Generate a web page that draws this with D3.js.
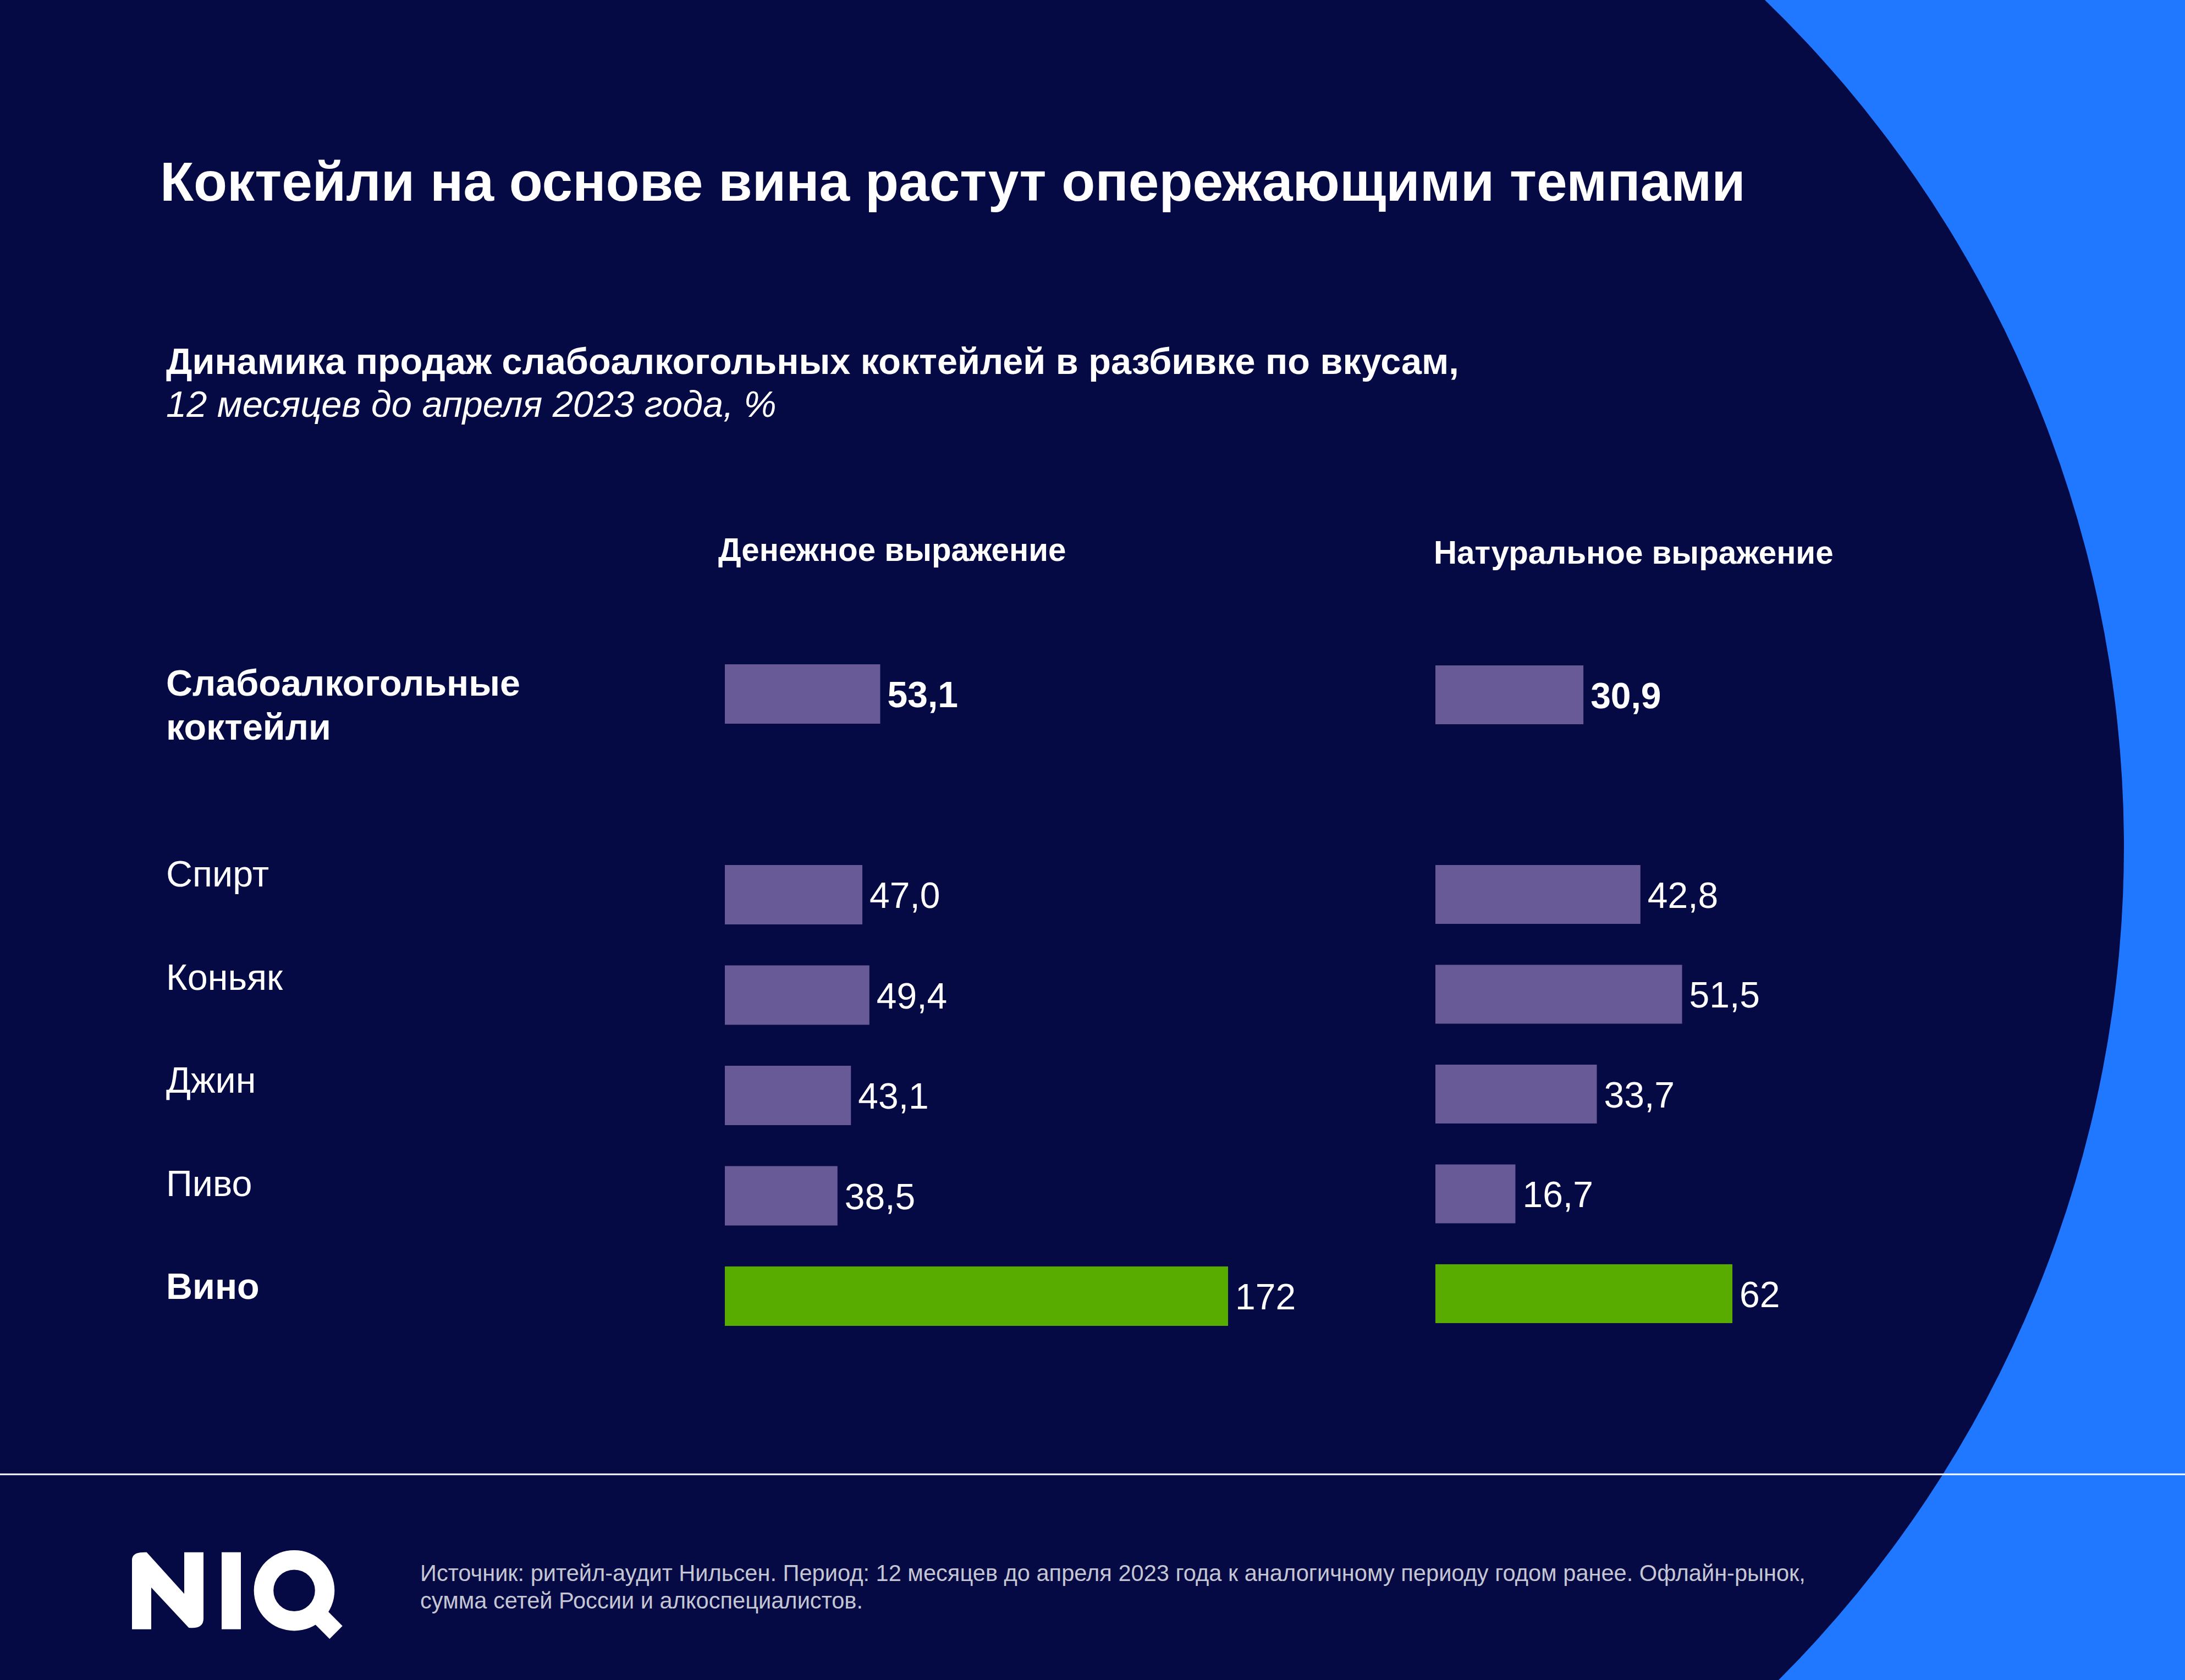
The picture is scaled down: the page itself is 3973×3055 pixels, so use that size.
<!DOCTYPE html>
<html><head><meta charset="utf-8">
<script src="https://cdn.jsdelivr.net/npm/d3@7"></script>
<style>
html,body{margin:0;padding:0;background:#050A45;}
svg{display:block;}
text{font-family:"Liberation Sans",Arial,sans-serif;}
</style></head>
<body>
<script>
// ---- data ----
const title = "Коктейли на основе вина растут опережающими темпами";
const subtitleBold = "Динамика продаж слабоалкогольных коктейлей в разбивке по вкусам,";
const subtitleItalic = "12 месяцев до апреля 2023 года, %";
const panelTitles = ["Денежное выражение", "Натуральное выражение"];
const categories = [["Слабоалкогольные", "коктейли"], ["Спирт"], ["Коньяк"], ["Джин"], ["Пиво"], ["Вино"]];
const moneyValues = [53.1, 47.0, 49.4, 43.1, 38.5, 172];
const volumeValues = [30.9, 42.8, 51.5, 33.7, 16.7, 62];
const moneyLabels = ["53,1", "47,0", "49,4", "43,1", "38,5", "172"];
const volumeLabels = ["30,9", "42,8", "51,5", "33,7", "16,7", "62"];
const footnote = ["Источник: ритейл-аудит Нильсен. Период: 12 месяцев до апреля 2023 года к аналогичному периоду годом ранее. Офлайн-рынок,",
                  "сумма сетей России и алкоспециалистов."];

// ---- layout / style ----
const W = 3973, H = 3055;
const C = {bg:"#050A45", blue:"#1F78FF", bar:"#675A96", wine:"#58AC00", text:"#FFFFFF", foot:"#C5C6D3"};

const svg = d3.select("body").append("svg").attr("width", W).attr("height", H);

// background: blue with dark region bounded by a big arc
svg.append("rect").attr("width", W).attr("height", H).attr("fill", C.blue);
svg.append("path")
  .attr("d", "M0,0 L3209,0 A2142,2142 0 0 1 3234,3055 L0,3055 Z")
  .attr("fill", C.bg);

// title
svg.append("text").attr("x", 291).attr("y", 365).attr("fill", C.text)
  .attr("font-size", 100).attr("font-weight", "bold").text(title);
svg.append("text").attr("x", 302).attr("y", 680).attr("fill", C.text)
  .attr("font-size", 66.6).attr("font-weight", "bold").text(subtitleBold);
svg.append("text").attr("x", 302).attr("y", 758).attr("fill", C.text)
  .attr("font-size", 66.8).attr("font-style", "italic").text(subtitleItalic);

// slots: first row, gap, then the rest
const slot = i => i === 0 ? 0 : i + 1;
const isWine = i => categories[i][0] === "Вино";
const isBold = i => i === 0 || isWine(i);

// category labels
const labelY = d3.scaleLinear().domain([2, 6]).range([1612, 2362]);
categories.forEach((lines, i) => {
  const t = svg.append("text").attr("fill", C.text).attr("font-size", 66.5)
    .attr("font-weight", isBold(i) ? "bold" : "normal");
  const y0 = i === 0 ? 1265 : labelY(slot(i));
  lines.forEach((ln, k) => {
    t.append("tspan").attr("x", 302).attr("y", y0 + k * 80).text(ln);
  });
});

// panels
const panels = [
  {title: panelTitles[0], titleX: 1306, titleY: 1020, values: moneyValues, labels: moneyLabels,
   x: d3.scaleLinear().domain([0, 172]).range([1318, 2233]),
   y: d3.scaleLinear().domain([0, 6]).range([1208, 2303]), bh: 108},
  {title: panelTitles[1], titleX: 2607, titleY: 1025, values: volumeValues, labels: volumeLabels,
   x: d3.scaleLinear().domain([0, 62]).range([2610, 3150]),
   y: d3.scaleLinear().domain([0, 6]).range([1210, 2299]), bh: 107}
];

panels.forEach(p => {
  svg.append("text").attr("x", p.titleX).attr("y", p.titleY).attr("fill", C.text)
    .attr("font-size", 58.3).attr("font-weight", "bold").text(p.title);
  const g = svg.append("g");
  g.selectAll("rect").data(p.values).join("rect")
    .attr("x", p.x(0))
    .attr("y", (d, i) => p.y(slot(i)))
    .attr("width", d => p.x(d) - p.x(0))
    .attr("height", p.bh)
    .attr("fill", (d, i) => isWine(i) ? C.wine : C.bar);
  g.selectAll("text").data(p.values).join("text")
    .attr("x", d => p.x(d) + 13)
    .attr("y", (d, i) => p.y(slot(i)) + p.bh / 2 + 24)
    .attr("fill", C.text).attr("font-size", 66)
    .attr("font-weight", (d, i) => i === 0 ? "bold" : "normal")
    .text((d, i) => p.labels[i]);
});

// separator line
svg.append("line").attr("x1", 0).attr("x2", W).attr("y1", 2681).attr("y2", 2681)
  .attr("stroke", "#FFFFFF").attr("stroke-width", 3);

// footnote
footnote.forEach((ln, k) => {
  svg.append("text").attr("x", 764).attr("y", 2875 + k * 50).attr("fill", C.foot)
    .attr("font-size", 41.6).text(ln);
});

// NIQ logo
const logo = svg.append("g").attr("fill", "#FFFFFF");
logo.append("path").attr("d",
  "M240,2962.7 L240,2836.7 Q240,2821.7 266.7,2822.7 L335,2898.3 L335,2822.7 L370,2822.7 L370,2943.3 Q370,2962.7 343.3,2960 L275,2886.7 L275,2962.7 Z");
logo.append("rect").attr("x", 403).attr("y", 2822.7).attr("width", 35).attr("height", 140);
const qc = [535, 2892.2], ro = 73.3, ri = 37.8;
logo.append("path").attr("fill-rule", "evenodd").attr("d",
  `M${qc[0]-ro},${qc[1]} a${ro},${ro} 0 1 0 ${2*ro},0 a${ro},${ro} 0 1 0 ${-2*ro},0 Z ` +
  `M${qc[0]-ri},${qc[1]} a${ri},${ri} 0 1 0 ${2*ri},0 a${ri},${ri} 0 1 0 ${-2*ri},0 Z`);
logo.append("line").attr("x1", 566.8).attr("y1", 2924).attr("x2", 611).attr("y2", 2968.5)
  .attr("stroke", "#FFFFFF").attr("stroke-width", 33);
</script>
</body></html>
